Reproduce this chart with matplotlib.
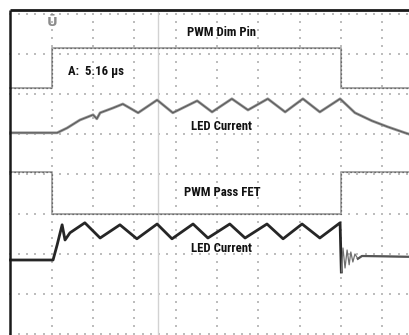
import matplotlib
matplotlib.use("Agg")
import matplotlib.pyplot as plt
from matplotlib import font_manager

# ---- data (scope divisions: x = time div, y = vertical div from bottom) ----
dim_x = [0.0, 1.0, 1.0, 8.0, 8.0, 9.7]
dim_y = [6.15, 6.15, 7.15, 7.15, 6.15, 6.15]

led1_x = [0.0, 1.13, 1.37, 1.68, 2.00, 2.09, 2.17, 2.48, 2.72, 3.09, 3.55, 3.93,
          4.52, 4.88, 5.36, 5.75, 6.23, 6.65, 7.08, 7.49, 7.98, 8.34, 8.75, 9.13,
          9.55, 9.7]
led1_y = [5.03, 5.03, 5.15, 5.35, 5.48, 5.38, 5.53, 5.65, 5.75, 5.53, 5.85, 5.53,
          5.83, 5.55, 5.88, 5.60, 5.88, 5.55, 5.88, 5.55, 5.88, 5.53, 5.33, 5.18,
          5.03, 4.98]

fet_x = [0.0, 1.0, 1.0, 8.0, 8.0, 9.7]
fet_y = [4.05, 4.05, 3.0, 3.0, 4.05, 4.05]

led2_x = [0.0, 1.03, 1.13, 1.25, 1.32, 1.44, 1.80, 2.17, 2.65, 3.06, 3.55, 3.91,
          4.42, 4.78, 5.31, 5.68, 6.21, 6.60, 7.06, 7.49, 7.98, 8.01, 8.05, 8.10,
          8.15, 8.20, 8.24, 8.29, 8.34, 8.41, 8.51, 9.7]
led2_y = [1.85, 1.85, 2.23, 2.73, 2.35, 2.53, 2.78, 2.40, 2.73, 2.38, 2.75, 2.38,
          2.75, 2.40, 2.75, 2.40, 2.75, 2.38, 2.75, 2.40, 2.78, 1.55, 2.15, 1.65,
          2.10, 1.73, 2.05, 1.80, 2.00, 1.88, 1.95, 1.93]
ring_start = 20  # index where the turn-off ringing begins

labels = ["PWM Dim Pin", "A:  5.16 µs", "LED Current", "PWM Pass FET", "LED Current"]
label_pos = [(5.12, 7.55, 'center'), (1.39, 6.55, 'left'), (5.12, 5.2, 'center'),
             (5.12, 3.55, 'center'), (5.12, 2.15, 'center')]

cursor_x = 3.57
trigger_x = 1.0

# ---- font ----
avail = {f.name for f in font_manager.fontManager.ttflist}
fam = None
for cand in ["Liberation Sans Narrow", "DejaVu Sans Condensed", "Roboto Condensed", "Liberation Sans"]:
    if cand in avail:
        fam = cand
        break
if fam is None:
    fam = "DejaVu Sans"
fsize = 9.2 if ("Narrow" in fam or "Condensed" in fam) else 7.6

# ---- figure ----
W, H = 410, 335
fig = plt.figure(figsize=(W / 100, H / 100), dpi=100)
ax = fig.add_axes([0, 0, 1, 1])
div_px = 41.3
ax.set_xlim(-10.5 / div_px, (W - 10.5) / div_px)
ax.set_ylim(-1 / 40, 334 / 40)
ax.axis("off")

# dotted grid
gx, gy = [], []
for k in range(1, 10):
    for j in range(0, 41):
        gx.append(k); gy.append(0.2 * j)
for j in range(0, 9):
    for i in range(0, 50):
        gx.append(0.2 * i); gy.append(j)
ax.scatter(gx, gy, s=1.6, marker='s', color='#bdbdbd', linewidths=0, zorder=1)

# cursor line
ax.plot([cursor_x, cursor_x], [0, 8.1], color='#d2d2d2', lw=1.0, zorder=1)

# frame borders
ax.plot([0, 10], [8.1, 8.1], color='#1a1a1a', lw=2.0, solid_capstyle='butt', zorder=5)
ax.plot([0, 0], [-0.1, 8.1], color='#1a1a1a', lw=1.8, solid_capstyle='butt', zorder=5)

# trigger marker
ax.text(trigger_x, 7.80, "Ū", ha='center', va='center', fontsize=9.5, color='#8c8c8c',
        fontweight='bold', family='DejaVu Sans', zorder=4)

# PWM traces (noisy look)
for xs, ys in [(dim_x, dim_y), (fet_x, fet_y)]:
    ax.plot(xs, ys, color='#a8a8a8', lw=1.4, zorder=3)
    ax.plot(xs, ys, color='#555555', lw=0.9, linestyle=(0, (1, 2.2)), zorder=3)

# LED currents
ax.plot(led1_x, led1_y, color='#989898', lw=2.0, zorder=3)
ax.plot(led1_x, led1_y, color='#5a5a5a', lw=0.8, zorder=3)
ax.plot(led2_x[:ring_start + 2], led2_y[:ring_start + 2], color='#262626', lw=2.0, zorder=3)
ax.plot(led2_x[ring_start + 1:], led2_y[ring_start + 1:], color='#707070', lw=0.9, zorder=3)
ax.plot(led2_x[ring_start + 9:], led2_y[ring_start + 9:], color='#555555', lw=1.6, zorder=3)

for txt, (x, y, ha) in zip(labels, label_pos):
    ax.text(x, y, txt, ha=ha, va='center', fontsize=fsize, fontweight='bold',
            family=fam, color='#111111', zorder=6)

fig.savefig("out.png", dpi=100, facecolor='white')
